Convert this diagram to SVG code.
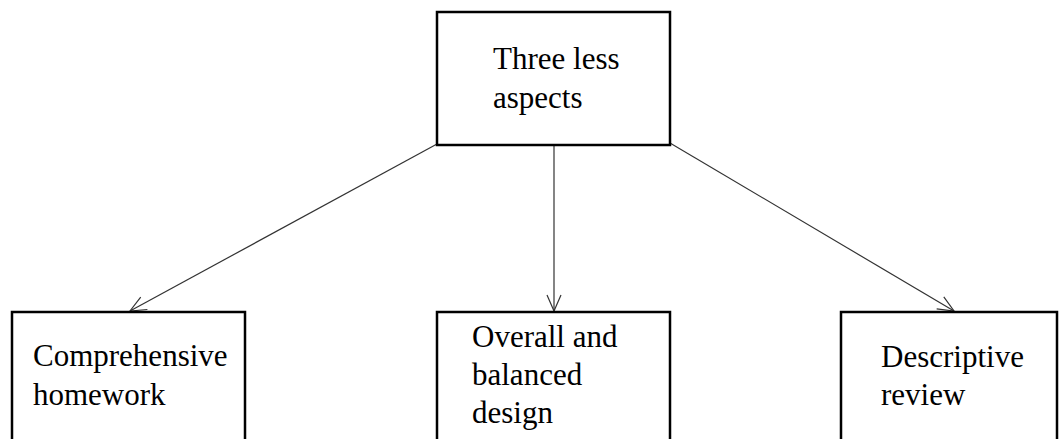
<svg xmlns="http://www.w3.org/2000/svg" width="1059" height="439" viewBox="0 0 1059 439">
<style>
.box{fill:#fff;stroke:#000;stroke-width:2.5}
.t{font-size:31px;fill:#000}
.c{stroke:#333;stroke-width:1.2;fill:none}
</style>
<defs>
<marker id="arr" viewBox="0 0 20 20" refX="18" refY="10" markerWidth="20" markerHeight="20" markerUnits="userSpaceOnUse" orient="auto">
<path d="M2,3 L18,10 L2,17" fill="none" stroke="#333" stroke-width="1.2"/>
</marker>
</defs>
<rect width="1059" height="439" fill="#fff"/>
<g id="connectors">
<line class="c" x1="437" y1="144" x2="130" y2="311" marker-end="url(#arr)"/>
<line class="c" x1="554" y1="145" x2="554" y2="311" marker-end="url(#arr)"/>
<line class="c" x1="670" y1="143" x2="954" y2="311" marker-end="url(#arr)"/>
</g>
<g font-family="'Liberation Serif', 'DejaVu Serif', 'Times New Roman', serif">
<g id="top">
<rect class="box" x="437" y="12" width="233" height="133"/>
<text class="t" x="493" y="69">Three less</text>
<text class="t" x="493" y="108">aspects</text>
</g>
<g id="left">
<rect class="box" x="12" y="312" width="233" height="140"/>
<text class="t" x="33" y="366">Comprehensive</text>
<text class="t" x="33" y="405">homework</text>
</g>
<g id="middle">
<rect class="box" x="437" y="312" width="233" height="140"/>
<text class="t" x="472" y="347">Overall and</text>
<text class="t" x="472" y="385">balanced</text>
<text class="t" x="472" y="423">design</text>
</g>
<g id="right">
<rect class="box" x="841" y="312" width="216" height="140"/>
<text class="t" x="881" y="367">Descriptive</text>
<text class="t" x="881" y="405">review</text>
</g>
</g>
</svg>
